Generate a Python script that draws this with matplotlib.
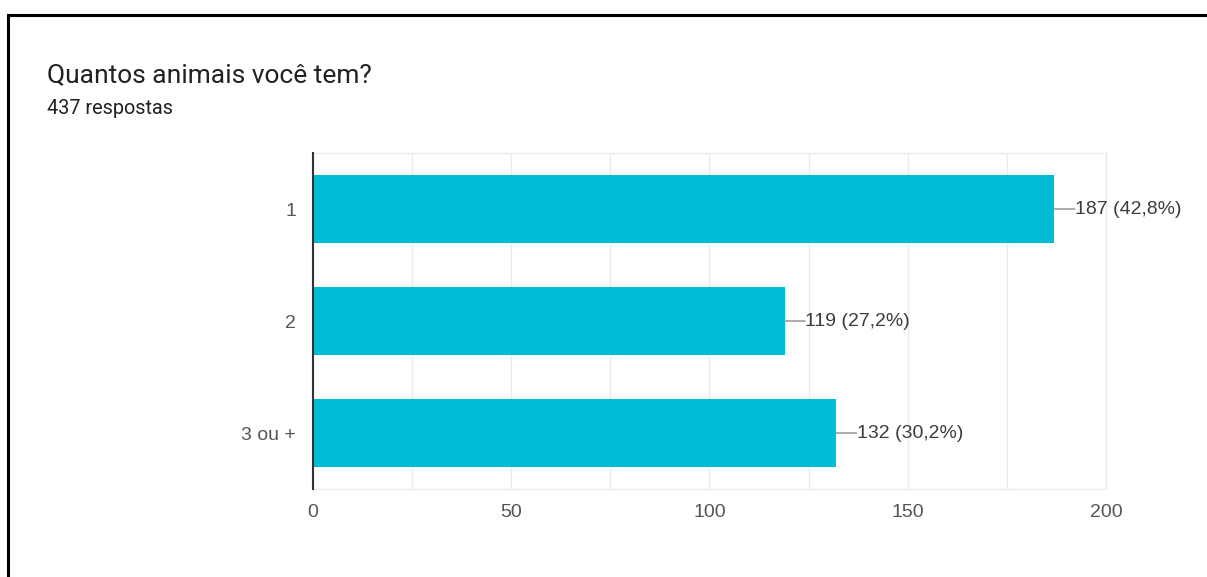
import matplotlib.pyplot as plt
from matplotlib.lines import Line2D

# respostas do formulário
categorias = ['1', '2', '3 ou +']
contagens = [187, 119, 132]
percentuais = ['42,8%', '27,2%', '30,2%']
total_respostas = 437

plt.rcParams['font.family'] = ['Roboto', 'DejaVu Sans']
fonte_grafico = ['Liberation Sans', 'DejaVu Sans']

fig = plt.figure(figsize=(12.07, 5.77), dpi=100)
ax = fig.add_axes([0.2593, 0.1525, 0.6570, 0.5823])

pos = list(range(len(categorias)))
ax.barh(pos, contagens, height=0.607, color='#00BCD4', zorder=3)

# rótulo com traço ligando a ponta da barra ao texto
for y, v, p in zip(pos, contagens, percentuais):
    ax.annotate('', xy=(v, y), xytext=(14.5, 0), textcoords='offset points',
                arrowprops=dict(arrowstyle='-', color='#9e9e9e', lw=1.2,
                                shrinkA=0, shrinkB=0), zorder=4)
    ax.annotate(f'{v} ({p})', xy=(v, y), xytext=(14.8, 0),
                textcoords='offset points', va='center', ha='left',
                fontsize=14, color='#3c3c3c', family=fonte_grafico)

ax.set_xlim(0, 200)
ax.set_ylim(2.5, -0.5)
ax.set_xticks([0, 50, 100, 150, 200])
ax.set_xticks(range(0, 201, 25), minor=True)
ax.set_yticks(pos)
ax.set_yticklabels(categorias)
ax.tick_params(axis='both', length=0, labelsize=14, labelcolor='#555555')
ax.tick_params(axis='y', pad=12)
ax.tick_params(axis='x', pad=11)
ax.tick_params(which='minor', length=0)
for lbl in ax.get_xticklabels() + ax.get_yticklabels():
    lbl.set_family(fonte_grafico)
ax.grid(axis='x', which='both', color='#ebebeb', lw=1, zorder=0)

for s in ['top', 'right', 'bottom']:
    ax.spines[s].set_color('#ebebeb')
    ax.spines[s].set_linewidth(1)
ax.spines['left'].set_color('#333333')
ax.spines['left'].set_linewidth(1.5)
ax.spines['left'].set_zorder(5)

fig.text(47 / 1207, 1 - 75 / 577, 'Quantos animais você tem?', fontsize=19,
         color='#202124', va='center', ha='left')
fig.text(47 / 1207, 1 - 108 / 577, f'{total_respostas} respostas', fontsize=14.3,
         color='#202124', va='center', ha='left')

# moldura
fig.add_artist(Line2D([0.0066, 1.0], [1 - 14.5 / 577] * 2, color='black', lw=2.2,
                      transform=fig.transFigure))
fig.add_artist(Line2D([0.0066, 0.0066], [0, 1 - 14.5 / 577], color='black', lw=2.2,
                      transform=fig.transFigure))

fig.savefig('out.png', dpi=100, facecolor='white')
